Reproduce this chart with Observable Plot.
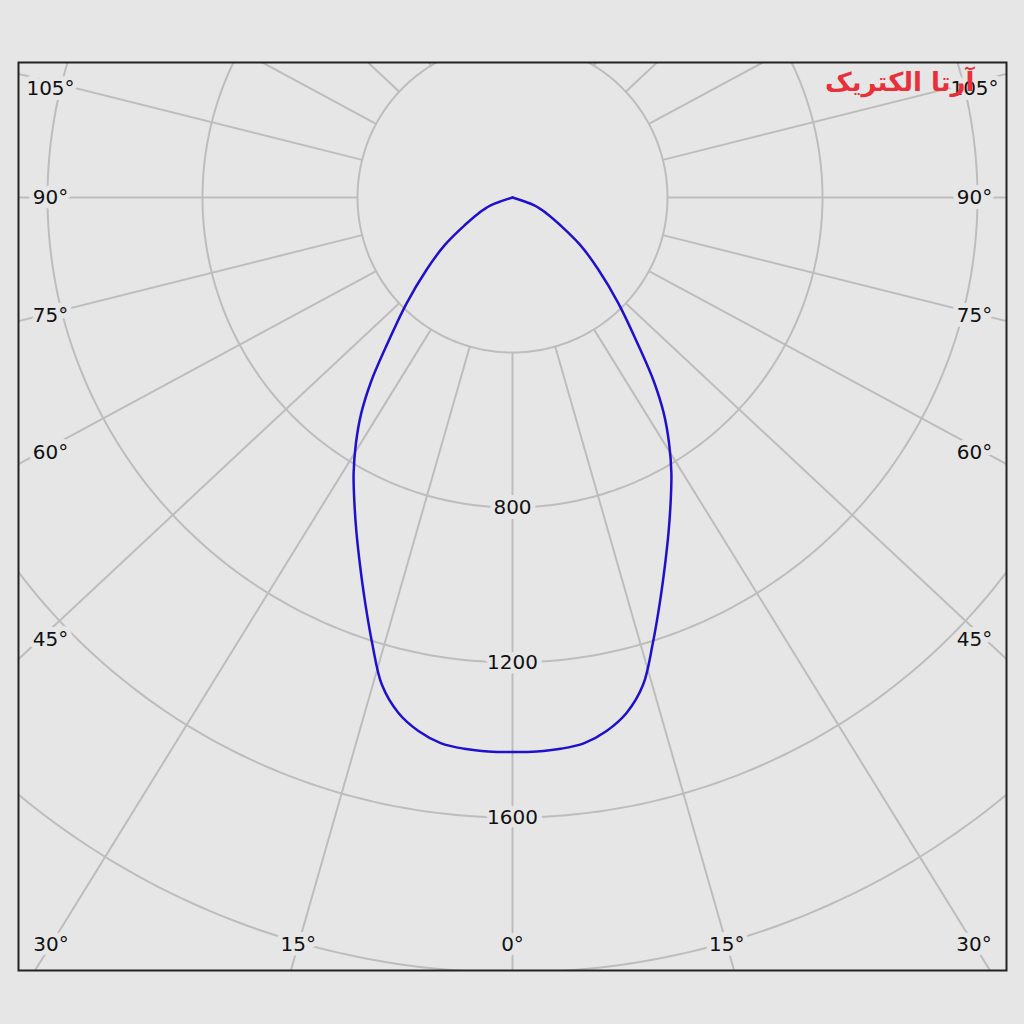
<!DOCTYPE html>
<html><head><meta charset="utf-8">
<script src="https://cdn.jsdelivr.net/npm/d3@7"></script>
<script src="https://cdn.jsdelivr.net/npm/@observablehq/plot@0.6"></script>
<style>html,body{margin:0;padding:0;background:#e6e6e6;} #chart svg{display:block}</style>
</head><body><div id="chart"></div>
<script>
// Luminous intensity curve (symmetric half, angle from nadir in degrees)
const curveAngles = [0, 2.5, 5, 7.5, 10, 12.5, 15, 17.5, 20, 22.5, 25, 27.5, 30, 32.5, 35, 37.5, 40, 45, 50, 55, 60, 65, 70, 75];
const curveValues = [1431, 1431, 1428, 1420, 1398, 1362, 1302, 1205, 1112, 1028, 953, 884, 820, 752, 681, 600, 514, 387, 289, 213, 142, 97, 60, 0];

// Grid
const gridRadii = [400, 800, 1200, 1600, 2000, 2400];
const spokeAngles = [0, 15, 30, 45, 60, 75, 90, 105, 120, 135, 150, 165, 180, 195, 210, 225, 240, 255, 270, 285, 300, 315, 330, 345];
const angleLabels = [-105, -90, -75, -60, -45, -30, -15, 0, 15, 30, 45, 60, 75, 90, 105];
const radiusLabels = [800, 1200, 1600];
const logoText = "آرتا الکتریک";

// layout
const W = 1024, H = 1024;
const mL = 18, mR = 18, mT = 62, mB = 54;
const cx = 512 - mL, cy = 197 - mT;           // centre in plot px
const pxPer = 155 / 400;                      // px per cd
const stretch = 1.07;                         // angle grid drawn slightly stretched horizontally
const sideLabelStretch = 1.045, bottomLabelStretch = 1.07;
const rad = Math.PI / 180;
const xDom = [-cx / pxPer, (W - mL - mR - cx) / pxPer];
const yDom = [-(H - mT - mB - cy) / pxPer, cy / pxPer];
const labelX = 462 / pxPer, labelY = 747 / pxPer, labelTop = (cy - 26) / pxPer;

// two halves (left and right) so that the top meets in a sharp point
const curve = [];
for (const side of [-1, 1]) curveAngles.forEach((a, i) => curve.push({a: side * a, v: curveValues[i], side}));

const circles = [];
for (const r of gridRadii) for (let t = 0; t <= 360; t += 1) circles.push({r, t});

const spokes = spokeAngles.map(a => {
  const dx = stretch * Math.sin(a * rad), dy = -Math.cos(a * rad), n = Math.hypot(dx, dy);
  return {x1: 400 * dx / n, y1: 400 * dy / n, x2: 6000 * dx / n, y2: 6000 * dy / n};
});
const angLab = angleLabels.map(a => {
  if (Math.abs(a) <= 30) {
    const x = labelY * bottomLabelStretch * Math.tan(a * rad);
    return {x: Math.max(-labelX, Math.min(labelX, x)), y: -labelY, text: Math.abs(a) + "°"};
  }
  const dx = sideLabelStretch * Math.sin(a * rad), dy = -Math.cos(a * rad);
  const t = labelX / Math.abs(dx);
  return {x: t * dx, y: Math.min(t * dy, labelTop), text: Math.abs(a) + "°"};
});

const font = "'DejaVu Sans', sans-serif";
const bg = "#e6e6e6";

const chart = Plot.plot({
  width: W, height: H,
  marginLeft: mL, marginRight: mR, marginTop: mT, marginBottom: mB,
  style: {background: bg, fontFamily: font},
  x: {domain: xDom, axis: null},
  y: {domain: yDom, axis: null},
  marks: [
    Plot.line(circles, {x: d => d.r * Math.sin(d.t * rad), y: d => -d.r * Math.cos(d.t * rad), z: "r", stroke: "#bdbdbd", strokeWidth: 2, clip: true}),
    Plot.link(spokes, {x1: "x1", y1: "y1", x2: "x2", y2: "y2", stroke: "#bdbdbd", strokeWidth: 2, clip: true}),
    Plot.line(curve, {x: d => d.v * Math.sin(d.a * rad), y: d => -d.v * Math.cos(d.a * rad), z: "side", curve: "catmull-rom", stroke: "#1f10cc", strokeWidth: 2.5, strokeLinejoin: "miter"}),
    Plot.text(radiusLabels, {x: 0, y: d => -d, text: d => String(d), fontSize: 20, fill: "#111", stroke: bg, strokeWidth: 10}),
    Plot.text(angLab, {x: "x", y: "y", text: "text", fontSize: 20, fill: "#111", stroke: bg, strokeWidth: 10}),
    Plot.text([logoText], {frameAnchor: "top-right", dx: -32, dy: 10, fontSize: 26, fontWeight: "bold", fill: "#e8303a", fontFamily: "'DejaVu Sans', sans-serif"}),
    Plot.frame({stroke: "#222", strokeWidth: 2})
  ]
});
document.getElementById("chart").appendChild(chart);
</script>
</body></html>
